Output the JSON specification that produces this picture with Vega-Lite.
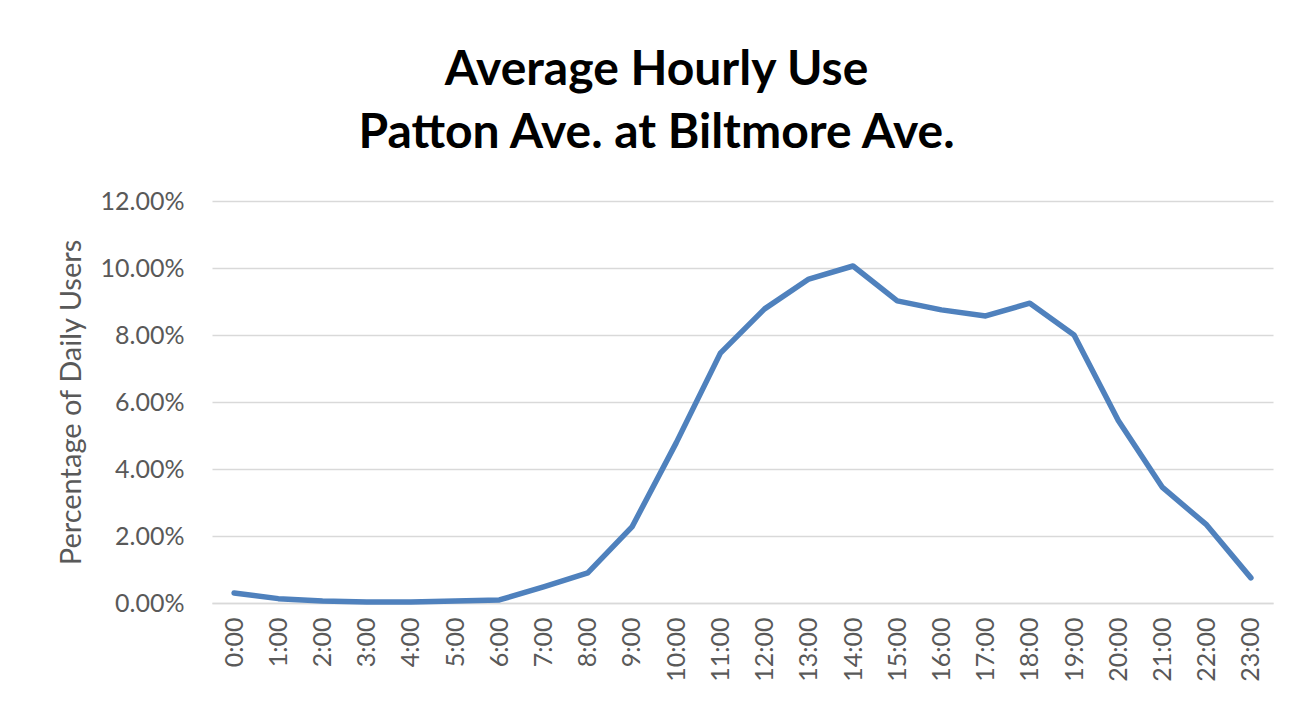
{
  "$schema": "https://vega.github.io/schema/vega-lite/v6.json",
  "width": 1061,
  "height": 402,
  "autosize": "none",
  "padding": {"left": 212, "top": 201, "right": 39, "bottom": 99},
  "background": "white",
  "title": {
    "text": ["Average Hourly Use", "Patton Ave. at Biltmore Ave."],
    "font": "Lato",
    "fontSize": 48,
    "fontWeight": "bold",
    "color": "black",
    "lineHeight": 63,
    "anchor": "middle",
    "dx": -86,
    "offset": 31
  },
  "data": {
    "values": [
      {"hour": "0:00", "pct": 0.0030},
      {"hour": "1:00", "pct": 0.0013},
      {"hour": "2:00", "pct": 0.0006},
      {"hour": "3:00", "pct": 0.0003},
      {"hour": "4:00", "pct": 0.0003},
      {"hour": "5:00", "pct": 0.0006},
      {"hour": "6:00", "pct": 0.0009},
      {"hour": "7:00", "pct": 0.0048},
      {"hour": "8:00", "pct": 0.0090},
      {"hour": "9:00", "pct": 0.0227},
      {"hour": "10:00", "pct": 0.0478},
      {"hour": "11:00", "pct": 0.0746},
      {"hour": "12:00", "pct": 0.0878},
      {"hour": "13:00", "pct": 0.0967},
      {"hour": "14:00", "pct": 0.1006},
      {"hour": "15:00", "pct": 0.0902},
      {"hour": "16:00", "pct": 0.0875},
      {"hour": "17:00", "pct": 0.0857},
      {"hour": "18:00", "pct": 0.0895},
      {"hour": "19:00", "pct": 0.0800},
      {"hour": "20:00", "pct": 0.0545},
      {"hour": "21:00", "pct": 0.0345},
      {"hour": "22:00", "pct": 0.0233},
      {"hour": "23:00", "pct": 0.0075}
    ]
  },
  "mark": {"type": "line", "color": "#4f81bd", "strokeWidth": 5.5, "strokeJoin": "round", "strokeCap": "round"},
  "encoding": {
    "x": {
      "field": "hour",
      "type": "ordinal",
      "sort": null,
      "scale": {"type": "point", "padding": 0.5},
      "axis": {
        "title": null,
        "labelAngle": -90,
        "labelAlign": "right",
        "labelBaseline": "middle",
        "labelFont": "Lato",
        "labelFontSize": 25,
        "labelColor": "#595959",
        "labelPadding": 14,
        "ticks": false,
        "domain": true,
        "domainColor": "#d9d9d9",
        "domainWidth": 1.5,
        "grid": false
      }
    },
    "y": {
      "field": "pct",
      "type": "quantitative",
      "scale": {"domain": [0, 0.12], "nice": false},
      "axis": {
        "title": "Percentage of Daily Users",
        "titleFont": "Lato",
        "titleFontSize": 29,
        "titleFontWeight": "normal",
        "titleColor": "#595959",
        "titlePadding": 14,
        "values": [0, 0.02, 0.04, 0.06, 0.08, 0.1, 0.12],
        "format": ".2%",
        "labelFont": "Lato",
        "labelFontSize": 25,
        "labelColor": "#595959",
        "labelPadding": 28,
        "ticks": false,
        "domain": false,
        "grid": true,
        "gridColor": "#d9d9d9",
        "gridWidth": 1.5
      }
    }
  },
  "config": {"view": {"stroke": null}}
}
